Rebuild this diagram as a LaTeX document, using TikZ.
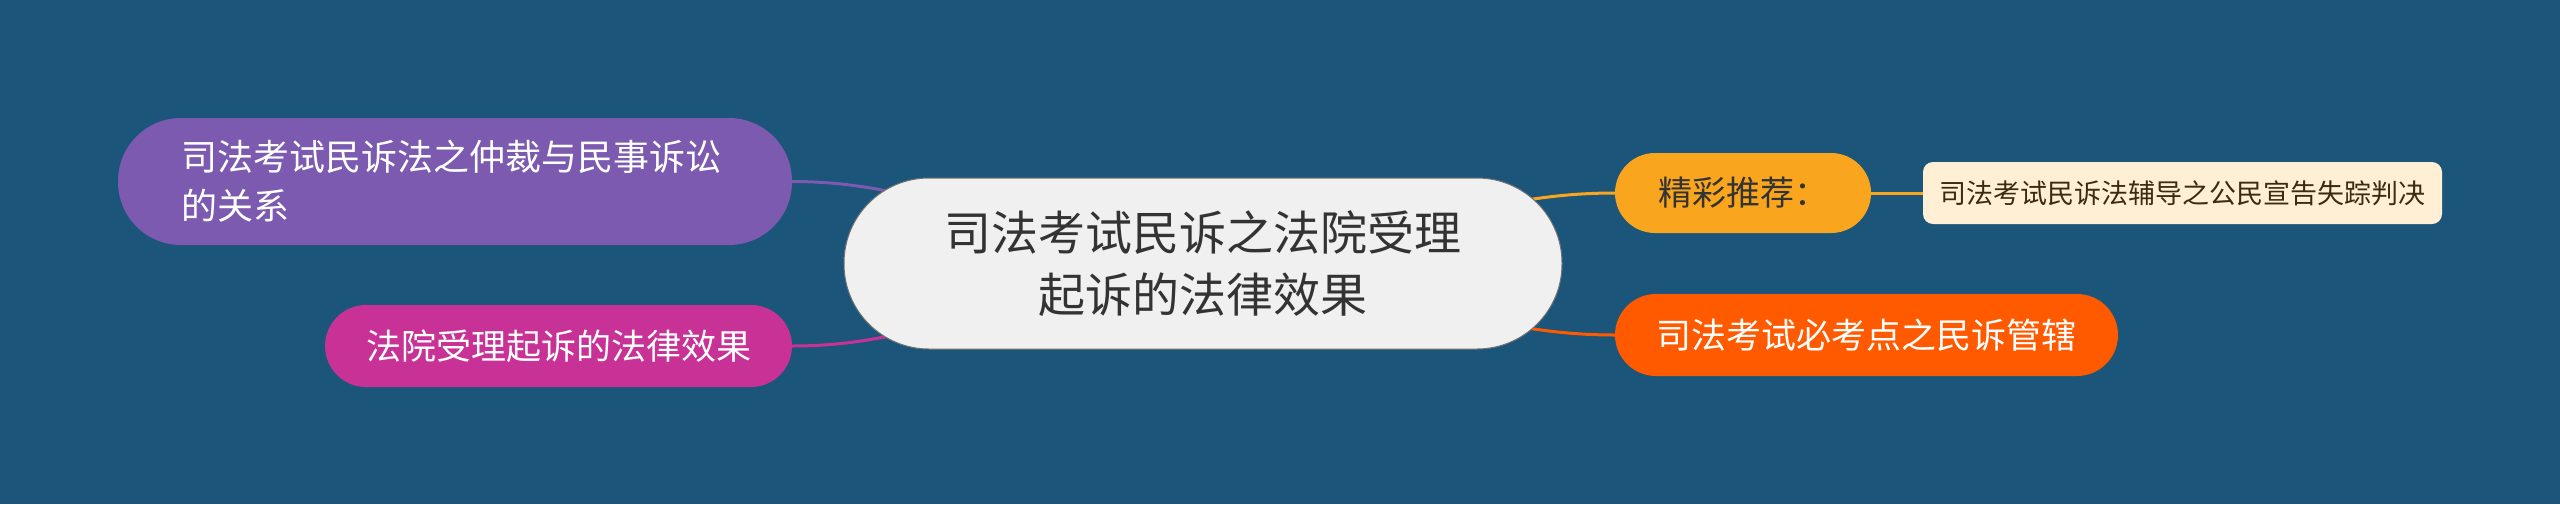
\documentclass[tikz,border=0pt]{standalone}
\usepackage{fontspec}
\setmainfont{Noto Sans CJK SC}
\usetikzlibrary{backgrounds}
\definecolor{bgc}{HTML}{1B5579}
\definecolor{cfill}{HTML}{F0F0F0}
\definecolor{ctext}{HTML}{333333}
\definecolor{purp}{HTML}{7B5AB0}
\definecolor{mag}{HTML}{C83296}
\definecolor{yel}{HTML}{F9A61E}
\definecolor{cream}{HTML}{FFF0D5}
\definecolor{brown}{HTML}{3D2B0F}
\definecolor{oran}{HTML}{FF5A00}
\tikzset{
  pill/.style={inner sep=0pt, align=center},
  link/.style={line width=3pt},
}
\begin{document}
\begin{tikzpicture}[x=1pt,y=-1pt]
\useasboundingbox (0,0) rectangle (2560,504);
\node[pill, fill=cfill, draw=ctext!70, line width=1pt, minimum width=718pt, minimum height=171pt, rounded corners=85pt, text=ctext,
  font=\fontsize{47}{62}\selectfont] (c) at (1203,263.5) {司法考试民诉之法院受理\\起诉的法律效果};
\node[pill, fill=purp, minimum width=674pt, minimum height=127pt, rounded corners=63pt, text=white, align=left, text width=548pt,
  font=\fontsize{36}{49}\selectfont] (p) at (455,181.5) {司法考试民诉法之仲裁与民事诉讼\\的关系};
\node[pill, fill=mag, minimum width=467pt, minimum height=82pt, rounded corners=41pt, text=white,
  font=\fontsize{35}{40}\selectfont] (m) at (558.5,346) {法院受理起诉的法律效果};
\node[pill, fill=yel, minimum width=256pt, minimum height=80pt, rounded corners=40pt, text=ctext,
  font=\fontsize{34}{40}\selectfont] (y) at (1743,193) {精彩推荐：};
\node[pill, fill=cream, minimum width=519pt, minimum height=62pt, rounded corners=10pt, text=brown,
  font=\fontsize{27}{34}\selectfont] (k) at (2182.5,193) {司法考试民诉法辅导之公民宣告失踪判决};
\node[pill, fill=oran, minimum width=503pt, minimum height=82pt, rounded corners=41pt, text=white,
  font=\fontsize{35}{40}\selectfont] (o) at (1866.5,335) {司法考试必考点之民诉管辖};
\begin{scope}[on background layer]
  \fill[bgc] (0,0) rectangle (2560,504);
  \draw[link, purp] (p.east) to[out=0,in=180] (c.center);
  \draw[link, mag] (m.east) to[out=0,in=180] (c.center);
  \draw[link, yel] (c.center) to[out=0,in=180] (y.west);
  \draw[link, oran] (c.center) to[out=0,in=180] (o.west);
  \draw[link, yel] (y.east) -- (k.west);
\end{scope}
\end{tikzpicture}
\end{document}
